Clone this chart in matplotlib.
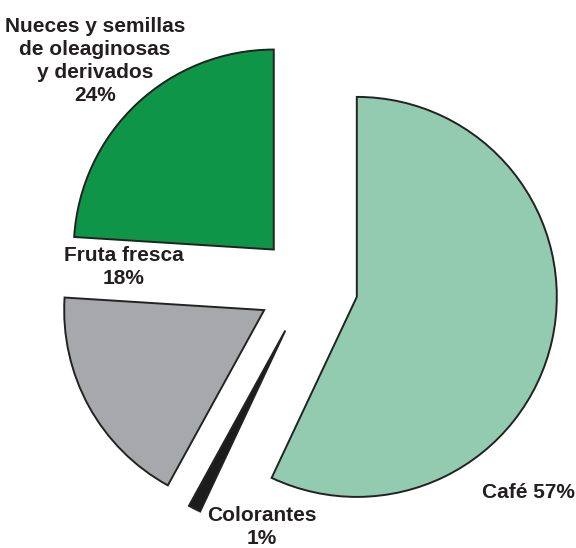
import matplotlib.pyplot as plt
from matplotlib import font_manager

# datos (orden antihorario empezando arriba)
categorias = ["Nueces y semillas\nde oleaginosas\ny derivados", "Fruta fresca", "Colorantes", "Café"]
porcentajes = [24, 18, 1, 57]
colores = ["#0e9547", "#a6a8ab", "#1c1c1c", "#93cbb1"]

nombres = {f.name for f in font_manager.fontManager.ttflist}
fuente = "Liberation Sans Narrow" if "Liberation Sans Narrow" in nombres else "Liberation Sans"

fig = plt.figure(figsize=(5.76, 5.48), dpi=100)
ax = fig.add_axes([0, 0, 1, 1])

ax.pie(porcentajes, colors=colores, startangle=90, counterclock=True,
       radius=200, center=(308, 262), explode=[50] * len(porcentajes),
       wedgeprops=dict(edgecolor="#222222", linewidth=1.4))

ax.set_xlim(0, 576)
ax.set_ylim(0, 548)
ax.set_aspect("equal")
ax.axis("off")

# etiquetas
posiciones = [(95, 487), (124, 281), (262, 21), (528, 55)]
for cat, pct, (x, y) in zip(categorias, porcentajes, posiciones):
    if cat == "Café":
        txt = f"{cat} {pct}%"
    else:
        txt = f"{cat}\n{pct}%"
    ax.text(x, y, txt, ha="center", va="center", multialignment="center",
            fontsize=15, fontweight="bold", family=[fuente, "DejaVu Sans"],
            color="#231f20", linespacing=1.25)

plt.savefig("out.png", dpi=100, facecolor="white")
